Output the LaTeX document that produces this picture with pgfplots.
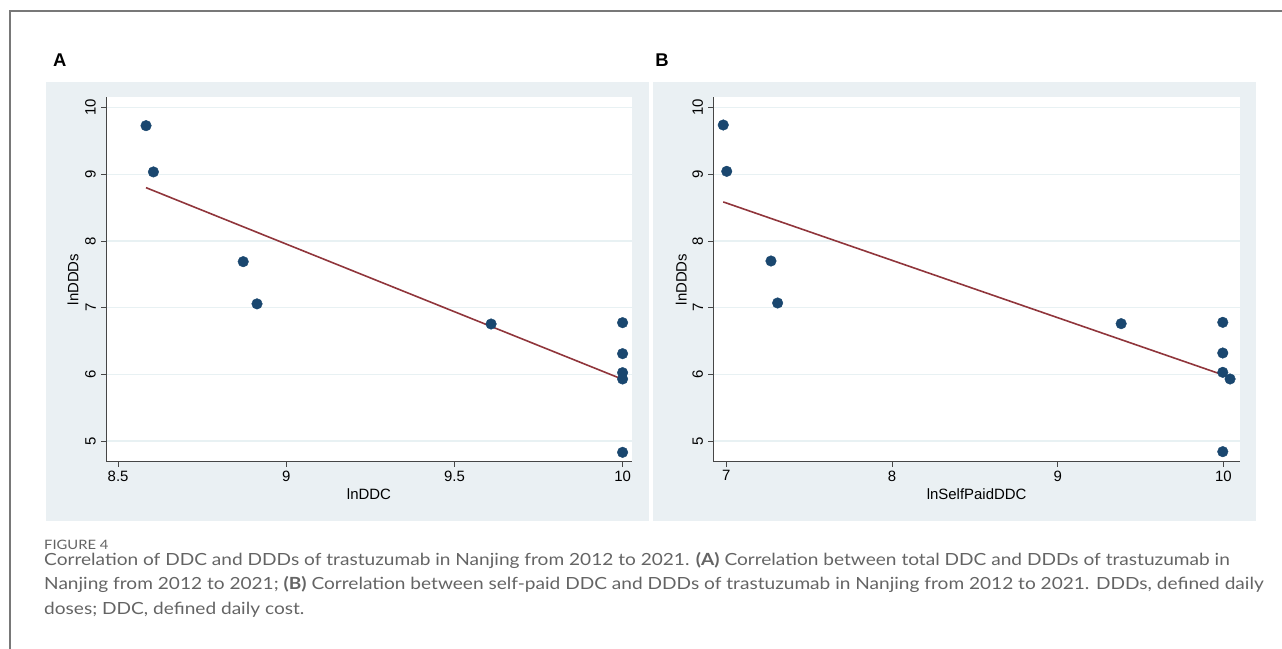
\documentclass[border=0pt]{standalone}
\usepackage{pgfplots}
\pgfplotsset{compat=1.18}
\usepackage{fontspec}
\setmainfont{Liberation Sans}
\newfontfamily\capfont[FakeStretch=1.14]{Lato}
\definecolor{bgblue}{RGB}{234,240,243}
\definecolor{gridc}{RGB}{232,241,243}
\definecolor{navy}{RGB}{26,71,111}
\definecolor{maroon}{RGB}{144,53,59}
\definecolor{axgray}{RGB}{70,70,70}
\definecolor{capgray}{RGB}{100,100,100}
\definecolor{framegray}{RGB}{120,120,120}
\pgfplotsset{
  stataplot/.style={
    scale only axis,
    height=365bp,
    ymin=4.685, ymax=10.16,
    ytick={5,6,7,8,9,10},
    axis lines*=left,
    axis line style={-, draw=axgray, line width=1pt},
    tick style={draw=axgray, line width=0.8pt},
    tick align=outside,
    major tick length=5bp,
    ymajorgrids,
    grid style={draw=gridc, line width=1.2pt},
    axis background/.style={fill=white},
    tick label style={font=\fontsize{15}{17}\selectfont, text=black},
    /pgf/number format/assume math mode=true,
    yticklabel style={rotate=90, anchor=south, inner sep=5bp},
    xticklabel style={anchor=north, inner sep=3.5bp},
    every axis x label/.style={at={(axis description cs:0.5,0)}, anchor=center, yshift=-32bp, font=\fontsize{15}{17}\selectfont},
    every axis y label/.style={anchor=center, rotate=90, font=\fontsize{15}{17}\selectfont},
    clip=false,
  },
  dots/.style={only marks, mark=*, mark size=5.3bp, mark options={fill=navy, draw=navy}},
  fit/.style={no marks, draw=maroon, line width=1.6pt},
}
\begin{document}
\begin{tikzpicture}
\path[use as bounding box] (0,0) rectangle (1282bp,649bp);
% frame
\draw[framegray, line width=1.3pt] (10bp,0) -- (10bp,638bp) -- (1282bp,638bp);
% panel backgrounds
\fill[bgblue] (46bp,128bp) rectangle (649bp,567bp);
\fill[bgblue] (653bp,128bp) rectangle (1256bp,567bp);
\node[font=\bfseries\fontsize{18.5}{20}\selectfont, anchor=center] at (59.7bp,589bp) {A};
\node[font=\bfseries\fontsize{18.5}{20}\selectfont, anchor=center] at (662bp,589bp) {B};

\begin{axis}[stataplot, at={(106bp,187bp)}, anchor=south west,
  width=526bp, xmin=8.464, xmax=10.028,
  xtick={8.5,9,9.5,10}, xticklabels={8.5,9,9.5,10},
  xlabel={lnDDC}, ylabel={lnDDDs},
  ylabel style={at={(axis description cs:-0.0627,0.5)}}]
\addplot[fit] coordinates {(8.583,8.80) (10.0,5.925)};
\addplot[dots] coordinates {
(8.583,9.73) (8.605,9.036) (8.872,7.69) (8.913,7.057) (9.609,6.755)
(10.0,6.775) (10.0,6.31) (10.0,6.025) (10.0,5.93) (10.0,4.83)};
\end{axis}

\begin{axis}[stataplot, at={(713.3bp,187bp)}, anchor=south west,
  width=526.7bp, xmin=6.922, xmax=10.10,
  xtick={7,8,9,10},
  xlabel={lnSelfPaidDDC}, ylabel={lnDDDs},
  ylabel style={at={(axis description cs:-0.0608,0.5)}}]
\addplot[fit] coordinates {(6.982,8.586) (10.04,5.955)};
\addplot[dots] coordinates {
(6.982,9.74) (7.003,9.045) (7.27,7.70) (7.31,7.07) (9.383,6.76)
(9.996,6.78) (9.996,6.32) (9.996,6.03) (10.04,5.93) (9.996,4.84)};
\end{axis}

% caption
\node[anchor=base west, inner sep=0, text=capgray, font=\capfont\fontsize{13}{15}\selectfont] at (44bp,99bp) {FIGURE 4};
\begin{scope}[every node/.style={anchor=base west, inner sep=0, text=capgray, font=\capfont\fontsize{16.8}{20}\selectfont}]
\node at (44bp,83bp) {Correlation of DDC and DDDs of trastuzumab in Nanjing from 2012 to 2021. \textbf{(A)} Correlation between total DDC and DDDs of trastuzumab in};
\node at (44bp,59bp) {Nanjing from 2012 to 2021; \textbf{(B)} Correlation between self-paid DDC and DDDs of trastuzumab in Nanjing from 2012 to 2021. DDDs, defined daily};
\node at (44bp,35bp) {doses; DDC, defined daily cost.};
\end{scope}
\end{tikzpicture}
\end{document}
